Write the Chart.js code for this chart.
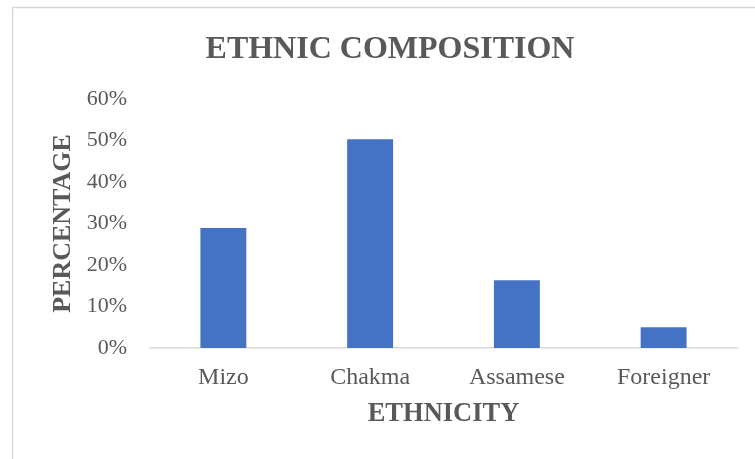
<!DOCTYPE html>
<html>
<head>
<meta charset="utf-8">
<title>Ethnic Composition</title>
<script src="https://cdn.jsdelivr.net/npm/chart.js@4.4.1/dist/chart.umd.min.js"></script>
<style>
    body { margin: 0; background: #ffffff; }
    canvas { display: block; }
</style>
</head>
<body>
<canvas id="chart" width="755" height="459"></canvas>
<script>
// Share of respondents by ethnicity, in percent
const categories = ['Mizo', 'Chakma', 'Assamese', 'Foreigner'];
const percentages = [28.9, 50.3, 16.3, 5.0];
const tickValues = [0, 10, 20, 30, 40, 50, 60];

const textColor = '#595959';
const serif = "'Liberation Serif', 'Times New Roman', serif";

// thin grey frame round the chart area, like an office chart
const frame = {
    id: 'frame',
    beforeDraw(chart) {
        const ctx = chart.ctx;
        ctx.save();
        ctx.strokeStyle = '#d9d9d9';
        ctx.lineWidth = 1.5;
        ctx.strokeRect(12.5, 7.5, chart.width, chart.height);
        ctx.restore();
    }
};

const ctx = document.getElementById('chart').getContext('2d');

new Chart(ctx, {
    type: 'bar',
    data: {
        labels: categories,
        datasets: [{
            label: 'Percentage',
            data: percentages,
            backgroundColor: '#4472c4',
            borderWidth: 0,
            categoryPercentage: 1,
            barPercentage: 0.313
        }]
    },
    options: {
        responsive: false,
        animation: false,
        layout: {
            padding: { left: 25, right: 0, top: 0, bottom: 0 }
        },
        plugins: {
            legend: { display: false },
            tooltip: { enabled: false },
            title: {
                display: true,
                text: 'ETHNIC COMPOSITION',
                color: textColor,
                font: { family: serif, size: 32, weight: 'bold' },
                padding: { top: 31, bottom: 29.6 }
            }
        },
        scales: {
            x: {
                grid: { display: false, drawTicks: false },
                border: { display: true, color: '#d9d9d9', width: 1.5 },
                ticks: {
                    color: textColor,
                    font: { family: serif, size: 24 },
                    padding: 15,
                    maxRotation: 0
                },
                title: {
                    display: true,
                    text: 'ETHNICITY',
                    color: textColor,
                    font: { family: serif, size: 26.5, weight: 'bold' },
                    padding: { top: 0, bottom: 29 }
                },
                afterFit: scale => { scale.height = 111; }
            },
            y: {
                min: 0,
                max: 60,
                grid: { display: false, drawTicks: false },
                border: { display: false },
                afterBuildTicks: scale => {
                    scale.ticks = tickValues.map(v => ({ value: v }));
                },
                ticks: {
                    color: textColor,
                    font: { family: serif, size: 22 },
                    padding: 23,
                    callback: value => value + '%'
                },
                title: {
                    display: true,
                    text: 'PERCENTAGE',
                    color: textColor,
                    font: { family: serif, size: 26, weight: 'bold' },
                    padding: { top: 22.4, bottom: 0 }
                },
                afterFit: scale => { scale.width = 125; }
            },
            // empty strip on the right so the plot stops short of the frame
            gutter: {
                position: 'right',
                grid: { display: false, drawTicks: false },
                border: { display: false },
                ticks: { display: false },
                afterFit: scale => { scale.width = 18; }
            }
        }
    },
    plugins: [frame]
});
</script>
</body>
</html>
